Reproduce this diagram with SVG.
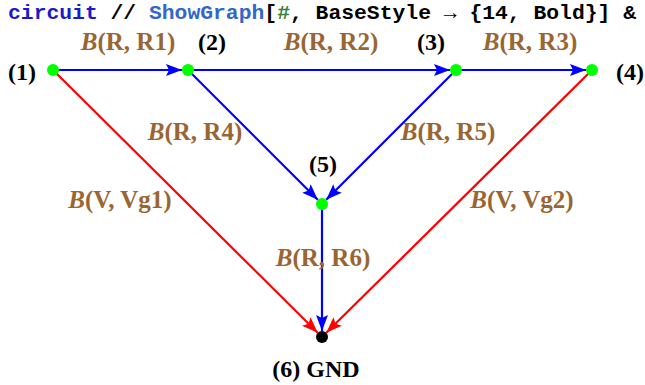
<svg xmlns="http://www.w3.org/2000/svg" width="645" height="385" viewBox="0 0 645 385">
<style>
.code{font-family:"Liberation Mono",monospace;font-weight:bold;font-size:20px}
.lbl{font-family:"Liberation Serif",serif;font-weight:bold;font-size:25px;fill:#996633;text-anchor:middle}
.nl{font-family:"Liberation Serif",serif;font-weight:bold;font-size:24px;fill:#000;text-anchor:middle}
.b{stroke:#0000FF;stroke-width:2.2;fill:none;marker-end:url(#ab)}
.r{stroke:#FF0000;stroke-width:2.2;fill:none;marker-end:url(#ar)}
.v{fill:#00FF00}
</style>
<defs>
<marker id="ab" markerUnits="userSpaceOnUse" markerWidth="20" markerHeight="16" viewBox="0 -8 16 16" refX="16" refY="0" orient="auto"><path d="M0,-6 L16,0 L0,6 L3,0 Z" fill="#0000FF"/></marker>
<marker id="ar" markerUnits="userSpaceOnUse" markerWidth="20" markerHeight="16" viewBox="0 -8 16 16" refX="16" refY="0" orient="auto"><path d="M0,-6 L16,0 L0,6 L3,0 Z" fill="#FF0000"/></marker>
</defs>
<text class="code" x="8" y="19" textLength="628" lengthAdjust="spacingAndGlyphs"><tspan fill="#1A1ACC">circuit</tspan><tspan fill="#000"> // </tspan><tspan fill="#3366CC">ShowGraph</tspan><tspan fill="#000">[</tspan><tspan fill="#3C7F3C">#</tspan><tspan fill="#000">, BaseStyle → {14, Bold}] &amp;</tspan></text>
<g id="connectors">
<line class="b" x1="53" y1="70" x2="182" y2="70"/>
<line class="b" x1="188" y1="70" x2="450" y2="70"/>
<line class="b" x1="456" y1="70" x2="586" y2="70"/>
<line class="b" x1="188" y1="70" x2="317.8" y2="199.8"/>
<line class="b" x1="456" y1="70" x2="326.2" y2="199.8"/>
<line class="b" x1="322" y1="204" x2="322" y2="331"/>
<line class="r" x1="53" y1="70" x2="317.7" y2="332.8"/>
<line class="r" x1="592" y1="70" x2="326.3" y2="332.8"/>
<text class="lbl" x="128" y="50"><tspan font-style="italic">B</tspan>(R, R1)</text>
<text class="lbl" x="331" y="50"><tspan font-style="italic">B</tspan>(R, R2)</text>
<text class="lbl" x="530" y="50"><tspan font-style="italic">B</tspan>(R, R3)</text>
<text class="lbl" x="195" y="140"><tspan font-style="italic">B</tspan>(R, R4)</text>
<text class="lbl" x="448" y="140"><tspan font-style="italic">B</tspan>(R, R5)</text>
<text class="lbl" x="120" y="208"><tspan font-style="italic">B</tspan>(V, Vg1)</text>
<text class="lbl" x="522" y="208"><tspan font-style="italic">B</tspan>(V, Vg2)</text>
<text class="lbl" x="323" y="266"><tspan font-style="italic">B</tspan>(R, R6)</text>
</g>
<g id="n1"><circle class="v" cx="53" cy="70" r="6"/><text class="nl" x="22" y="80">(1)</text></g>
<g id="n2"><circle class="v" cx="188" cy="70" r="6"/><text class="nl" x="212" y="50">(2)</text></g>
<g id="n3"><circle class="v" cx="456" cy="70" r="6"/><text class="nl" x="431" y="50">(3)</text></g>
<g id="n4"><circle class="v" cx="592" cy="70" r="6"/><text class="nl" x="630" y="80">(4)</text></g>
<g id="n5"><circle class="v" cx="322" cy="204" r="6"/><text class="nl" x="323" y="172">(5)</text></g>
<g id="n6"><circle fill="#000" cx="322" cy="337" r="6"/><text class="nl" x="316" y="377">(6) GND</text></g>
</svg>
